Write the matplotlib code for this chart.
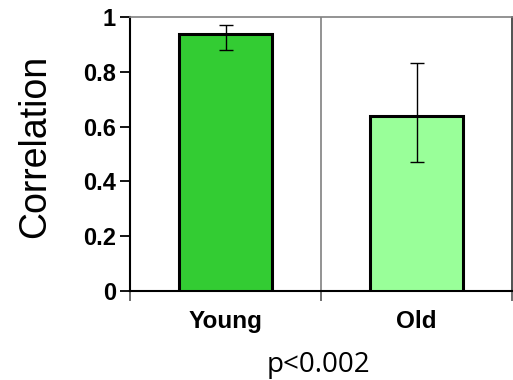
import matplotlib
matplotlib.use("Agg")
import matplotlib.pyplot as plt

categories = ["Young", "Old"]
values = [0.938, 0.637]
err_low = [0.058, 0.167]
err_high = [0.032, 0.194]
colors = ["#33CC33", "#99FF99"]
yticks = [0, 0.2, 0.4, 0.6, 0.8, 1]
ytick_labels = ["0", "0.2", "0.4", "0.6", "0.8", "1"]

fig = plt.figure(figsize=(5.13, 3.80), dpi=100)
ax = fig.add_axes([130/513, 1-291/380, (512-130)/513, (291-17)/380])

x = list(range(len(categories)))
ax.bar(x, values, width=0.49, color=colors, edgecolor="black", linewidth=2.2, zorder=3)
ax.errorbar(x, values, yerr=[err_low, err_high], fmt="none", ecolor="black",
            elinewidth=1.0, capsize=5, capthick=1.0, zorder=4)

ax.set_xlim(-0.5, 1.5)
ax.set_ylim(0, 1)
ax.axvline(0.5, color="#808080", linewidth=1.2, zorder=1)

ax.set_yticks(yticks)
ax.set_yticklabels(ytick_labels, fontfamily="Liberation Sans", fontweight="bold", fontsize=17)
ax.set_xticks(x)
ax.set_xticklabels(categories, fontfamily="Liberation Sans", fontweight="bold", fontsize=17.5)
ax.set_xticks([-0.5, 0.5, 1.5], minor=True)
ax.tick_params(axis="x", which="major", length=0, pad=14)
ax.tick_params(axis="x", which="minor", length=7, width=1.2, color="#555555", direction="out")
ax.tick_params(axis="y", length=7, width=1.3, direction="out", pad=3)

for s in ["left", "bottom"]:
    ax.spines[s].set_color("black")
    ax.spines[s].set_linewidth(1.5)
ax.spines["top"].set_color("#808080")
ax.spines["top"].set_linewidth(1.2)
ax.spines["right"].set_color("#333333")
ax.spines["right"].set_linewidth(1.2)

ax.set_ylabel("Correlation", fontfamily="Liberation Sans", fontsize=27)
ax.yaxis.set_label_coords(-0.200, 0.526)

fig.text(318/513, 1-365/380, "p<0.002", fontfamily="Open Sans", fontsize=20,
         ha="center", va="center")

fig.savefig("out.png", dpi=100)
